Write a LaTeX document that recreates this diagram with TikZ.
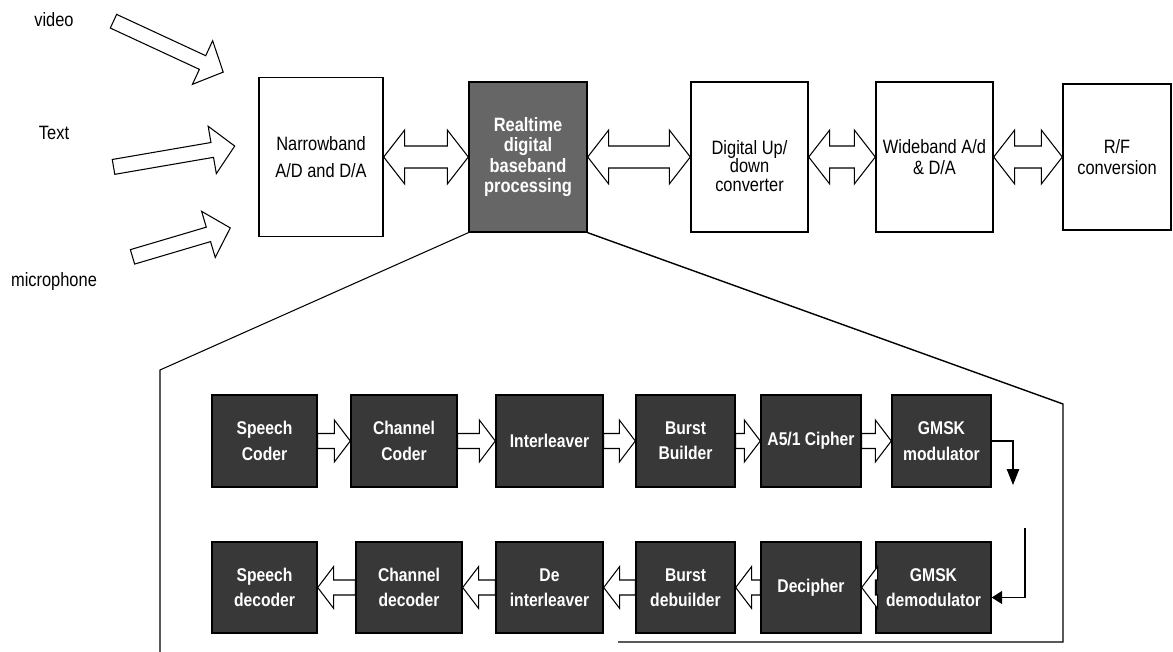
\documentclass[tikz,border=0pt]{standalone}
\usepackage{fontspec}
\setmainfont{Liberation Sans}[FakeStretch=0.85]
\usetikzlibrary{shapes.arrows, arrows.meta, calc, positioning}

\tikzset{
  topblock/.style={draw, line width=0.8pt, fill=white, align=center, font=\fontsize{11}{12}\selectfont,
    minimum width=2.34cm, minimum height=3cm, inner sep=2pt},
  darkblock/.style={topblock, fill=black!60, text=white, font=\bfseries\fontsize{11}{11.5}\selectfont},
  subblock/.style={draw, line width=0.8pt, fill=black!78, text=white, align=center,
    font=\bfseries\fontsize{10.5}{14.5}\selectfont, minimum width=2.1cm, minimum height=1.84cm, inner sep=1pt},
  blockarr/.style={draw, line width=0.6pt, fill=white, line join=miter},
  inarrow/.style={single arrow, draw, line width=0.6pt, fill=white, inner xsep=0pt, inner ysep=0.14cm,
    single arrow head extend=0.33cm, single arrow tip angle=93},
  lbl/.style={font=\fontsize{11}{13}\selectfont},
  thinline/.style={line width=0.6pt},
}

% double block arrow between two boxes of the top chain
\newcommand{\dblarrow}[2]{%
  \draw[blockarr] (#1.east) -- ($(#1.east)+(21,-27)$) -- ($(#1.east)+(21,-11)$)
    -- ($(#2.west)+(-21,-11)$) -- ($(#2.west)+(-21,-27)$) -- (#2.west)
    -- ($(#2.west)+(-21,27)$) -- ($(#2.west)+(-21,11)$)
    -- ($(#1.east)+(21,11)$) -- ($(#1.east)+(21,27)$) -- cycle;}

% single block arrow, #3 = signed head length
\newcommand{\flowarrow}[3]{%
  \draw[blockarr] ($(#1)+(0,-7.5)$) -- ($(#2)+(#3,-7.5)$) -- ($(#2)+(#3,-21)$) -- (#2)
    -- ($(#2)+(#3,21)$) -- ($(#2)+(#3,7.5)$) -- ($(#1)+(0,7.5)$) -- cycle;}

\begin{document}
\begin{tikzpicture}[x=0.02cm, y=-0.02cm]
    \useasboundingbox (0,0) rectangle (1173,652);

    % Inputs
    \node[lbl] (video) at (54,20) {video};
    \node[lbl] (text) at (54,133) {Text};
    \node[lbl] (micro) at (54,282) {microphone};

    \coordinate (vidtail) at (113,21);  \coordinate (vidtip) at (223,72);
    \coordinate (txttail) at (113,167); \coordinate (txttip) at (235,146);
    \coordinate (mictail) at (132,257); \coordinate (mictip) at (230,228);
    \path (vidtail) -- (vidtip) node[pos=0, sloped, anchor=tail, inarrow, minimum height=2.42cm] (vidarr) {};
    \path (txttail) -- (txttip) node[pos=0, sloped, anchor=tail, inarrow, minimum height=2.46cm] (txtarr) {};
    \path (mictail) -- (mictip) node[pos=0, sloped, anchor=tail, inarrow, minimum height=2.04cm] (micarr) {};

    % Top chain
    \node[topblock, minimum width=2.48cm, minimum height=3.18cm] (nb) at (321,157) {Narrowband\\[3pt]A/D and D/A};
    \node[darkblock, minimum width=2.36cm] (rt) at (528,157) {Realtime\\digital\\baseband\\processing};
    \node[topblock] (duc) at (749.5,157) {};
    \node[align=center, font=\fontsize{11}{10.5}\selectfont] (ductext) at ($(duc.center)+(0,9)$) {Digital Up/\\down\\converter};
    \node[topblock] (wb) at (934.5,157) {Wideband A/d\\\& D/A};
    \node[topblock, minimum width=2.16cm, minimum height=2.92cm] (rf) at (1117,157) {R/F\\conversion};

    \dblarrow{nb}{rt}
    \dblarrow{rt}{duc}
    \dblarrow{duc}{wb}
    \dblarrow{wb}{rf}

    % Zoom outline
    \coordinate (lcorner) at (160,370);
    \coordinate (lbottom) at (160,652);
    \coordinate (rcorner) at (1063,404);
    \coordinate (rbottom) at (1063,642);
    \coordinate (bend) at (618,642);
    \draw[thinline] (rt.south west) -- (lcorner) -- (lbottom);
    \draw[line width=0.8pt] (rt.south east) -- (rcorner) -- (rbottom) -- (bend);

    % Transmit row
    \node[subblock] (sc) at (264.5,441) {Speech\\Coder};
    \node[subblock, minimum width=2.12cm] (cc) at (404,441) {Channel\\Coder};
    \node[subblock, minimum width=2.14cm] (il) at (549.5,441) {Interleaver};
    \node[subblock, minimum width=1.98cm] (bb) at (685.5,441) {Burst\\Builder};
    \node[subblock, minimum width=2cm] (a5) at (811,441) {A5/1 Cipher};
    \node[subblock, minimum width=1.98cm] (gm) at (941.5,441) {GMSK\\modulator};

    % Receive row
    \node[subblock, minimum height=1.82cm] (sd) at (264.5,587.5) {Speech\\decoder};
    \node[subblock, minimum height=1.82cm, minimum width=2.12cm] (cd) at (409,587.5) {Channel\\decoder};
    \node[subblock, minimum height=1.82cm, minimum width=2.14cm] (di) at (549.5,587.5) {De\\interleaver};
    \node[subblock, minimum height=1.82cm, minimum width=1.98cm] (bd) at (685.5,587.5) {Burst\\debuilder};
    \node[subblock, minimum height=1.82cm, minimum width=2cm] (dc) at (811,587.5) {Decipher};
    \node[subblock, minimum height=1.82cm, minimum width=2.3cm] (gd) at (933.5,587.5) {GMSK\\demodulator};

    \flowarrow{sc.east}{cc.west}{-16}
    \flowarrow{cc.east}{il.west}{-16}
    \flowarrow{il.east}{bb.west}{-16}
    \flowarrow{bb.east}{a5.west}{-16}
    \flowarrow{a5.east}{gm.west}{-16}

    \flowarrow{gd.west}{dc.east}{16}
    \flowarrow{dc.west}{bd.east}{16}
    \flowarrow{bd.west}{di.east}{16}
    \flowarrow{di.west}{cd.east}{16}
    \flowarrow{cd.west}{sd.east}{16}

    % Modulator to demodulator
    \coordinate (modend) at (1013,485);
    \coordinate (demodtop) at (1025,528);
    \draw[thinline, -{Triangle[length=9pt, width=7pt]}] (gm.east) -| (modend);
    \draw[thinline, -{Triangle[length=6pt, width=7.5pt]}] (demodtop) |- ($(gd.east)+(0,10)$);
\end{tikzpicture}
\end{document}
